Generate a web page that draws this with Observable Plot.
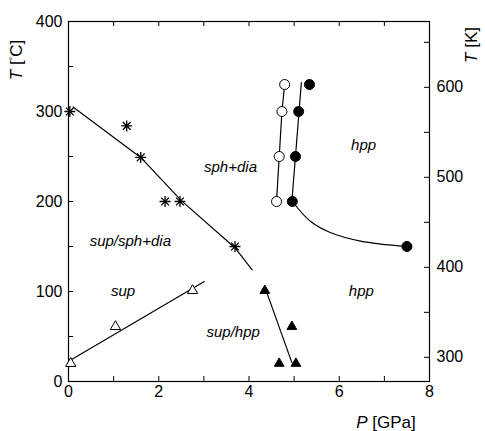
<!DOCTYPE html>
<html><head><meta charset="utf-8">
<script src="https://cdn.jsdelivr.net/npm/d3@7"></script>
<script src="https://cdn.jsdelivr.net/npm/@observablehq/plot@0.6"></script>
<style>body{margin:0;background:#fff}</style>
</head><body><div id="chart"></div>
<script>
// Data (P in GPa, T in °C)
const asteriskP = [0.03, 1.29, 1.6, 2.14, 2.47, 3.69];
const asteriskT = [300, 284, 249, 200, 200, 150];
const boundaryP = [0.1, 1.6, 2.5, 3.7, 4.07];
const boundaryT = [305, 249, 201, 148, 124];

const openTriP = [0.05, 1.04, 2.75];
const openTriT = [20, 61, 101];
const openTriLineP = [0.05, 3.01];
const openTriLineT = [24, 111];

const fillTriP = [4.35, 4.95, 4.67, 5.04];
const fillTriT = [101, 61, 20, 20];
const fillTriLineP = [4.38, 4.95];
const fillTriLineT = [101, 21];

const openCircP = [4.61, 4.67, 4.73, 4.79];
const openCircT = [200, 250, 300, 330];

const fillCircP = [4.96, 5.03, 5.10, 5.34, 7.5];
const fillCircT = [200, 250, 300, 330, 150];
const fillLineP = [4.95, 5.16];
const fillLineT = [200, 332];
const hppCurveP = [4.96, 5.36, 5.8, 6.47, 7.5];
const hppCurveT = [200, 178, 165.5, 156, 150];

const labelText = ["sph+dia", "sup/sph+dia", "sup", "sup/hpp", "hpp", "hpp"];
const labelP = [3.59, 1.37, 1.21, 3.65, 6.54, 6.49];
const labelT = [238, 156, 100, 55, 263, 100];

const xTickLabels = [0, 2, 4, 6, 8];
const xTicks = [0, 1, 2, 3, 4, 5, 6, 7, 8];
const yTickLabels = [0, 100, 200, 300, 400];
const yTicks = [0, 50, 100, 150, 200, 250, 300, 350, 400];
const kTickLabels = [300, 400, 500, 600];
const kTicks = [300, 350, 400, 450, 500, 550, 600, 650];

const zip = (a, b) => a.map((v, i) => ({x: v, y: b[i]}));

const W = 485, H = 431, mL = 68, mR = 56, mT = 21, mB = 50;
const iw = W - mL - mR, ih = H - mT - mB, tl = 5;

const asterisk8 = {
  draw(ctx, size) {
    const r = Math.sqrt(size / Math.PI);
    for (let k = 0; k < 4; k++) {
      const a = k * Math.PI / 4;
      const c = Math.cos(a) * r, s = Math.sin(a) * r;
      ctx.moveTo(-c, -s); ctx.lineTo(c, s);
    }
  }
};

const svg = Plot.plot({
  width: W, height: H,
  marginLeft: mL, marginRight: mR, marginTop: mT, marginBottom: mB,
  x: {domain: [0, 8]},
  y: {domain: [0, 400]},
  style: {fontFamily: "'Liberation Sans', Arial, sans-serif", fontSize: "16px", color: "black", background: "white"},
  marks: [
    Plot.frame({stroke: "black", strokeWidth: 1.2}),
    Plot.tickX(xTicks, {x: d => d, insetTop: ih - tl, stroke: "black"}),
    Plot.tickX(xTicks, {x: d => d, insetBottom: ih - tl, stroke: "black"}),
    Plot.tickY(yTicks, {y: d => d, insetRight: iw - tl, stroke: "black"}),
    Plot.tickY(kTicks, {y: d => d - 273.15, insetLeft: iw - tl, stroke: "black"}),
    Plot.axisX(xTickLabels, {tickSize: 0, tickPadding: 4, label: null, fontSize: 16}),
    Plot.axisY(yTickLabels, {tickSize: 0, tickPadding: 6, label: null, fontSize: 16}),
    Plot.axisY(kTickLabels.map(k => k - 273.15), {anchor: "right", tickSize: 0, tickPadding: 7, label: null, fontSize: 16,
      tickFormat: d => String(Math.round(d + 273.15))}),
    Plot.line(zip(boundaryP, boundaryT), {x: "x", y: "y", stroke: "black", strokeWidth: 1.2}),
    Plot.line(zip(openTriLineP, openTriLineT), {x: "x", y: "y", stroke: "black", strokeWidth: 1.2}),
    Plot.line(zip(fillTriLineP, fillTriLineT), {x: "x", y: "y", stroke: "black", strokeWidth: 1.2}),
    Plot.line(zip(openCircP, openCircT), {x: "x", y: "y", stroke: "black", strokeWidth: 1.2}),
    Plot.line(zip(fillLineP, fillLineT), {x: "x", y: "y", stroke: "black", strokeWidth: 1.2}),
    Plot.line(zip(hppCurveP, hppCurveT), {x: "x", y: "y", stroke: "black", strokeWidth: 1.2, curve: "catmull-rom"}),
    Plot.dot(zip(asteriskP, asteriskT), {x: "x", y: "y", symbol: asterisk8, r: 5.5, stroke: "black", strokeWidth: 1.3}),
    Plot.dot(zip(openTriP, openTriT), {x: "x", y: "y", symbol: "triangle", r: 3.8, stroke: "black", fill: "white", strokeWidth: 1}),
    Plot.dot(zip(fillTriP, fillTriT), {x: "x", y: "y", symbol: "triangle", r: 3.6, stroke: "black", fill: "black", strokeWidth: 1}),
    Plot.dot(zip(openCircP, openCircT), {x: "x", y: "y", r: 5, stroke: "black", fill: "white", strokeWidth: 1}),
    Plot.dot(zip(fillCircP, fillCircT), {x: "x", y: "y", r: 5, stroke: "black", fill: "black", strokeWidth: 1}),
    Plot.text(labelText.map((t, i) => ({t, x: labelP[i], y: labelT[i]})), {x: "x", y: "y", text: "t", fontStyle: "italic", fontSize: 15, fill: "black"})
  ]
});

const s = d3.select(svg);
const fam = "'Liberation Sans', Arial, sans-serif";
// Left axis label T [°C]
const tl1 = s.append("text").attr("transform", "translate(22,60) rotate(-90)")
  .attr("text-anchor", "middle").attr("font-family", fam).attr("font-size", 17).attr("fill", "black");
tl1.append("tspan").attr("font-style", "italic").text("T");
tl1.append("tspan").text(" [");
tl1.append("tspan").attr("font-size", 9).attr("dy", -6).text("°");
tl1.append("tspan").attr("dy", 6).text("C]");
// Right axis label T [K]
const tl2 = s.append("text").attr("transform", "translate(477,45) rotate(-90)")
  .attr("text-anchor", "middle").attr("font-family", fam).attr("font-size", 17).attr("fill", "black");
tl2.append("tspan").attr("font-style", "italic").text("T");
tl2.append("tspan").text(" [K]");
// Bottom label P [GPa]
const tl3 = s.append("text").attr("x", 386).attr("y", 428)
  .attr("text-anchor", "middle").attr("font-family", fam).attr("font-size", 17).attr("fill", "black");
tl3.append("tspan").attr("font-style", "italic").text("P");
tl3.append("tspan").text(" [GPa]");

document.getElementById("chart").appendChild(svg);
</script>
</body></html>
